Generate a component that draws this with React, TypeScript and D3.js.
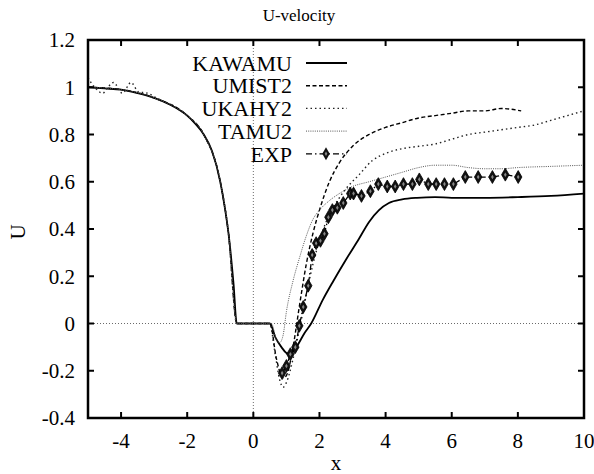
import * as d3 from "d3";
import React from "react";

const W = 594;
const H = 474;
const margin = { top: 40, right: 10, bottom: 56, left: 88 };
const txt = { fontFamily: "Liberation Serif" };

// x ticks / y ticks
const xTicks = [-4, -2, 0, 2, 4, 6, 8, 10];
const yTicks = [-0.4, -0.2, 0, 0.2, 0.4, 0.6, 0.8, 1, 1.2];

// KAWAMU
const kawamuX = [-5, -4.5, -4, -3.5, -3, -2.5, -2, -1.75, -1.5, -1.25, -1.0, -0.85, -0.75, -0.6, -0.5, 0.5, 0.67, 0.85, 1.0, 1.1, 1.3, 1.55, 1.75, 2.1, 2.42, 2.8, 3.2, 3.5, 3.8, 4.1, 4.5, 4.95, 5.5, 6, 7, 8, 9, 10];
const kawamuU = [1.0, 0.995, 0.99, 0.975, 0.955, 0.925, 0.88, 0.845, 0.8, 0.73, 0.6, 0.48, 0.38, 0.17, 0.0, 0.0, -0.06, -0.1, -0.125, -0.13, -0.1, -0.04, 0.0, 0.1, 0.18, 0.27, 0.36, 0.43, 0.48, 0.51, 0.525, 0.532, 0.535, 0.532, 0.532, 0.535, 0.54, 0.55];

// UMIST2
const umistX = [-5, -4, -3, -2, -1.5, -1.0, -0.75, -0.5, 0.5, 0.7, 0.9, 1.0, 1.2, 1.4, 1.6, 1.8, 2.0, 2.3, 2.6, 3.0, 3.5, 4.0, 4.5, 5, 5.5, 6, 6.5, 7, 7.5, 8.1];
const umistU = [1.0, 0.99, 0.955, 0.88, 0.8, 0.6, 0.38, 0.0, 0.0, -0.15, -0.23, -0.22, -0.1, 0.08, 0.25, 0.38, 0.48, 0.6, 0.68, 0.75, 0.8, 0.83, 0.85, 0.87, 0.88, 0.89, 0.9, 0.9, 0.91, 0.9];

// UKAHY2
const ukahyX = [-5, -4.8, -4.55, -4.4, -4.23, -3.96, -3.7, -3.47, -3.2, -3, -2.5, -2, -1.5, -1.0, -0.75, -0.5, 0.5, 0.65, 0.8, 0.9, 1.0, 1.2, 1.4, 1.6, 1.8, 2.0, 2.2, 2.5, 2.8, 3.2, 3.6, 4.0, 4.5, 5.0, 5.5, 6.0, 6.5, 7.0, 7.5, 8.0, 8.5, 9.0, 9.5, 10];
const ukahyU = [1.04, 1.0, 0.975, 1.0, 1.02, 0.975, 1.02, 0.98, 0.975, 0.96, 0.925, 0.88, 0.8, 0.6, 0.38, 0.0, 0.0, -0.12, -0.24, -0.27, -0.25, -0.15, -0.02, 0.12, 0.25, 0.35, 0.43, 0.51, 0.57, 0.63, 0.69, 0.72, 0.74, 0.75, 0.76, 0.78, 0.8, 0.81, 0.82, 0.83, 0.84, 0.86, 0.88, 0.9];

// TAMU2
const tamuX = [-5, -4, -3, -2, -1.5, -1.0, -0.75, -0.5, 0.55, 0.7, 0.8, 0.9, 1.0, 1.2, 1.4, 1.6, 1.8, 2.0, 2.3, 2.6, 3.0, 3.5, 4.0, 4.5, 5.0, 5.5, 6.0, 6.5, 7.0, 7.5, 8.0, 9.0, 10];
const tamuU = [1.0, 0.99, 0.955, 0.88, 0.8, 0.6, 0.38, 0.0, 0.0, -0.07, -0.08, -0.05, 0.05, 0.18, 0.28, 0.37, 0.44, 0.48, 0.52, 0.55, 0.58, 0.6, 0.62, 0.64, 0.66, 0.67, 0.67, 0.66, 0.655, 0.655, 0.66, 0.665, 0.67];

// EXP
const expX = [0.87, 1.0, 1.12, 1.27, 1.39, 1.51, 1.66, 1.78, 1.9, 2.03, 2.15, 2.27, 2.39, 2.54, 2.72, 2.93, 3.03, 3.27, 3.54, 3.78, 4.05, 4.29, 4.54, 4.81, 5.02, 5.29, 5.53, 5.78, 6.05, 6.41, 6.8, 7.23, 7.62, 8.01];
const expU = [-0.21, -0.18, -0.13, -0.1, -0.01, 0.07, 0.16, 0.29, 0.34, 0.35, 0.38, 0.45, 0.48, 0.49, 0.51, 0.55, 0.55, 0.54, 0.56, 0.59, 0.58, 0.58, 0.59, 0.59, 0.61, 0.59, 0.59, 0.59, 0.59, 0.62, 0.62, 0.62, 0.63, 0.62];

const legendNames = ["KAWAMU", "UMIST2", "UKAHY2", "TAMU2", "EXP"];

const styles = [
  { width: 1.8, dash: "none", color: "#000" },
  { width: 1.4, dash: "4,2.5", color: "#000" },
  { width: 1.4, dash: "1.5,3", color: "#222" },
  { width: 1, dash: "1,1.2", color: "#555" },
  { width: 1.3, dash: "6,3,1.5,3", color: "#000" },
];

export default function App() {
  const x = d3.scaleLinear().domain([-5, 10]).range([margin.left, W - margin.right]);
  const y = d3.scaleLinear().domain([-0.4, 1.2]).range([H - margin.bottom, margin.top]);

  const smooth = d3
    .line<[number, number]>()
    .x((d) => x(d[0]))
    .y((d) => y(d[1]))
    .curve(d3.curveMonotoneX);
  const straight = d3
    .line<[number, number]>()
    .x((d) => x(d[0]))
    .y((d) => y(d[1]));

  const zip = (a: number[], b: number[]) => a.map((v, i) => [v, b[i]] as [number, number]);
  const series = [
    zip(kawamuX, kawamuU),
    zip(umistX, umistU),
    zip(ukahyX, ukahyU),
    zip(tamuX, tamuU),
    zip(expX, expU),
  ];

  const diamond = d3.symbol().type(d3.symbolDiamond).size(48)();
  const inner = d3.symbol().type(d3.symbolDiamond).size(6)();

  const x0 = margin.left;
  const x1 = W - margin.right;
  const y0 = H - margin.bottom;
  const y1 = margin.top;
  const tick = 6;

  return (
    <svg width={W} height={H} style={{ position: "absolute", left: 0, top: 0, background: "#fff" }}>
      <rect width={W} height={H} fill="#fff" />
      {/* zero lines */}
      <line x1={x0} x2={x1} y1={y(0)} y2={y(0)} stroke="#444" strokeWidth={0.8} strokeDasharray="1,2" />
      <line x1={x(0)} x2={x(0)} y1={y0} y2={y1} stroke="#444" strokeWidth={0.8} strokeDasharray="1,2" />

      {/* series */}
      <defs>
        <clipPath id="plot">
          <rect x={x0} y={y1} width={x1 - x0} height={y0 - y1} />
        </clipPath>
      </defs>
      <g clipPath="url(#plot)">
        {series.map((s, i) => (
          <path
            key={i}
            d={(i === 4 ? straight(s) : smooth(s)) || ""}
            fill="none"
            stroke={styles[i].color}
            strokeWidth={styles[i].width}
            strokeDasharray={styles[i].dash}
          />
        ))}
        {series[4].map((d, i) => (
          <g key={"m" + i} transform={`translate(${x(d[0])},${y(d[1])})`}>
            <path d={diamond || ""} fill="#111" stroke="#000" strokeWidth={0.8} />
            <path d={inner || ""} fill="#888" />
          </g>
        ))}
      </g>

      {/* ticks */}
      {xTicks.map((t) => (
        <g key={"xt" + t}>
          <line x1={x(t)} x2={x(t)} y1={y0} y2={y0 - tick} stroke="#000" strokeWidth={2} />
          <line x1={x(t)} x2={x(t)} y1={y1} y2={y1 + tick} stroke="#000" strokeWidth={2} />
          <text x={x(t)} y={y0 + 30} textAnchor="middle" fontSize={21} style={txt}>
            {t}
          </text>
        </g>
      ))}
      {yTicks.map((t) => (
        <g key={"yt" + t}>
          <line x1={x0} x2={x0 + tick} y1={y(t)} y2={y(t)} stroke="#000" strokeWidth={2} />
          <line x1={x1} x2={x1 - tick} y1={y(t)} y2={y(t)} stroke="#000" strokeWidth={2} />
          <text x={75} y={y(t)} dy="0.35em" textAnchor="end" fontSize={21} style={txt}>
            {+t.toFixed(1)}
          </text>
        </g>
      ))}

      {/* frame */}
      <rect x={x0} y={y1} width={x1 - x0} height={y0 - y1} fill="none" stroke="#000" strokeWidth={2.5} />

      {/* labels */}
      <text x={299} y={21} textAnchor="middle" fontSize={17} style={txt}>
        U-velocity
      </text>
      <text x={(x0 + x1) / 2} y={470} textAnchor="middle" fontSize={21} style={txt}>
        x
      </text>
      <text transform={`translate(25,232) rotate(-90)`} textAnchor="middle" fontSize={21} style={txt}>
        U
      </text>

      {/* legend */}
      {legendNames.map((name, i) => {
        const ly = 63 + i * 22.7;
        return (
          <g key={name}>
            <text x={292} y={ly} dy="0.35em" textAnchor="end" fontSize={22} style={txt}>
              {name}
            </text>
            <line
              x1={306}
              x2={347}
              y1={ly}
              y2={ly}
              stroke={styles[i].color}
              strokeWidth={styles[i].width}
              strokeDasharray={styles[i].dash}
            />
            {i === 4 && (
              <g transform={`translate(${326},${ly})`}>
                <path d={diamond || ""} fill="#111" />
                <path d={inner || ""} fill="#888" />
              </g>
            )}
          </g>
        );
      })}
    </svg>
  );
}
